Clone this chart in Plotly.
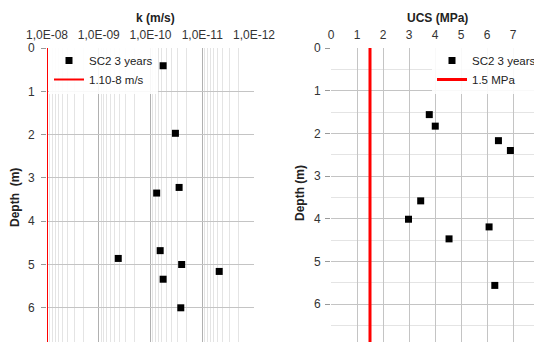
import plotly.graph_objects as go

# ---- data ----
k_depth = [0.41, 1.97, 3.22, 3.35, 4.86, 4.68, 5.00, 5.16, 5.34, 6.00]
k_vals = [5.7e-11, 3.3e-11, 2.8e-11, 7.6e-11, 4.2e-10, 6.5e-11, 2.5e-11, 4.7e-12, 5.7e-11, 2.6e-11]
k_limit = 1e-8
k_limit_label = "1.10-8 m/s"

ucs_depth = [1.56, 1.83, 2.17, 2.40, 3.58, 4.01, 4.19, 4.47, 5.56]
ucs_vals = [3.78, 4.01, 6.44, 6.90, 3.45, 2.98, 6.08, 4.54, 6.30]
ucs_limit = 1.5
ucs_limit_label = "1.5 MPa"

series_name = "SC2 3 years"
k_tickvals = [1e-8, 1e-9, 1e-10, 1e-11, 1e-12]
k_ticktext = ["1,0E-08", "1,0E-09", "1,0E-10", "1,0E-11", "1,0E-12"]
k_minor = [d * 10.0 ** e for e in range(-12, -8) for d in range(2, 10)]
ucs_tickvals = [0, 1, 2, 3, 4, 5, 6, 7, 8]
depth_range = [0, 7]

FONT = "Liberation Sans, Arial, sans-serif"
OFF = 8                          # page body margin offset
W, H = 542 - OFF, 350 - 2 * OFF  # figure size (no page overflow)
T = 48 - OFF                     # top margin (plot top at screen y=48)
PH = H - T
FS = 12
LFS = 11.5

# right panel: x=0 at screen 331, x=8 at screen 539
R0, R8 = 331, 539
# visible depth at the plot bottom (screen y = 342)
left_bottom = (342 - 48) / 43.3
right_bottom = (342 - 48) / 42.7


def sx(px):  # screen x -> paper x
    return (px - OFF) / W


def sy(py):  # screen y -> paper y
    return 1 - (py - 48) / PH


fig = go.Figure()

fig.add_trace(go.Scatter(x=k_vals, y=k_depth, mode="markers", name=series_name,
                         marker=dict(symbol="square", size=7, color="black"),
                         xaxis="x", yaxis="y", legend="legend"))
fig.add_trace(go.Scatter(x=[k_limit, k_limit], y=depth_range, mode="lines", name=k_limit_label,
                         line=dict(color="#ff0000", width=2),
                         xaxis="x", yaxis="y", legend="legend"))

fig.add_trace(go.Scatter(x=ucs_vals, y=ucs_depth, mode="markers", name=series_name,
                         marker=dict(symbol="square", size=7, color="black"),
                         xaxis="x2", yaxis="y2", legend="legend2"))
fig.add_trace(go.Scatter(x=[ucs_limit, ucs_limit], y=depth_range, mode="lines", name=ucs_limit_label,
                         line=dict(color="#ff0000", width=3),
                         xaxis="x2", yaxis="y2", legend="legend2"))

tickfont = dict(family=FONT, size=FS, color="#333333")
major_grid = "#c4c4c4"
title_font = dict(family=FONT, size=FS, color="#222222")

fig.update_layout(
    width=W, height=H,
    margin=dict(l=0, r=0, t=T, b=0, autoexpand=False),
    paper_bgcolor="white", plot_bgcolor="white",
    font=dict(family=FONT, size=FS, color="#222222"),
    xaxis=dict(type="log", range=[-8, -12], domain=[sx(47), sx(254)], side="top",
               tickvals=k_tickvals, ticktext=k_ticktext, tickfont=tickfont,
               showgrid=True, gridcolor="#b0b0b0", gridwidth=1,
               minor=dict(tickvals=k_minor, showgrid=True, gridcolor="#e4e4e4", gridwidth=1, ticks=""),
               ticks="", ticklabelstandoff=6, ticklabeloverflow="allow",
               zeroline=False, showline=False, anchor="y", automargin=False),
    yaxis=dict(range=[left_bottom, 0], domain=[0, 1], dtick=1, tickfont=tickfont,
               showgrid=True, gridcolor=major_grid, ticks="outside", ticklen=5,
               tickcolor="#999999", ticklabelstandoff=4, ticklabeloverflow="allow",
               zeroline=False, showline=False, anchor="x", automargin=False),
    xaxis2=dict(range=[0, 8], domain=[sx(R0), sx(R8)], side="top",
                tickmode="array", tickvals=ucs_tickvals,
                tickfont=tickfont, showgrid=True, gridcolor=major_grid, ticklabelstandoff=6,
                ticklabeloverflow="allow",
                ticks="", zeroline=False, showline=False, anchor="y2", automargin=False),
    yaxis2=dict(range=[right_bottom, 0], domain=[0, 1], dtick=1, tickfont=tickfont,
                showgrid=True, gridcolor=major_grid, ticks="outside", ticklen=5,
                tickcolor="#999999", ticklabelstandoff=2, ticklabeloverflow="allow",
                zeroline=False, showline=False,
                anchor="x2", automargin=False,
                minor=dict(dtick=0.5, showgrid=True, gridcolor="#e4e4e4", ticks="")),
    legend=dict(x=sx(49), y=sy(46), xanchor="left", yanchor="top",
                bgcolor="rgba(255,255,255,0.9)", font=dict(family=FONT, size=LFS, color="#222222"),
                itemwidth=30, tracegroupgap=0, borderwidth=0),
    legend2=dict(x=sx(432), y=sy(46), xanchor="left", yanchor="top",
                 bgcolor="rgba(255,255,255,0.9)", font=dict(family=FONT, size=LFS, color="#222222"),
                 itemwidth=30, tracegroupgap=0, borderwidth=0),
    annotations=[
        dict(text="<b>k (m/s)</b>", x=sx(155), y=sy(18), xref="paper", yref="paper",
             xanchor="center", yanchor="middle", showarrow=False, font=title_font),
        dict(text="<b>UCS (MPa)</b>", x=sx(437), y=sy(18), xref="paper", yref="paper",
             xanchor="center", yanchor="middle", showarrow=False, font=title_font),
        dict(text="<b>Depth\u00a0 (m)</b>", x=sx(15), y=sy(198), xref="paper", yref="paper",
             xanchor="center", yanchor="middle",
             textangle=-90, showarrow=False, font=title_font),
        dict(text="<b>Depth (m)</b>", x=sx(300), y=sy(193), xref="paper", yref="paper",
             xanchor="center", yanchor="middle",
             textangle=-90, showarrow=False, font=title_font),
    ],
    showlegend=True,
)

fig.write_html("out.html")
